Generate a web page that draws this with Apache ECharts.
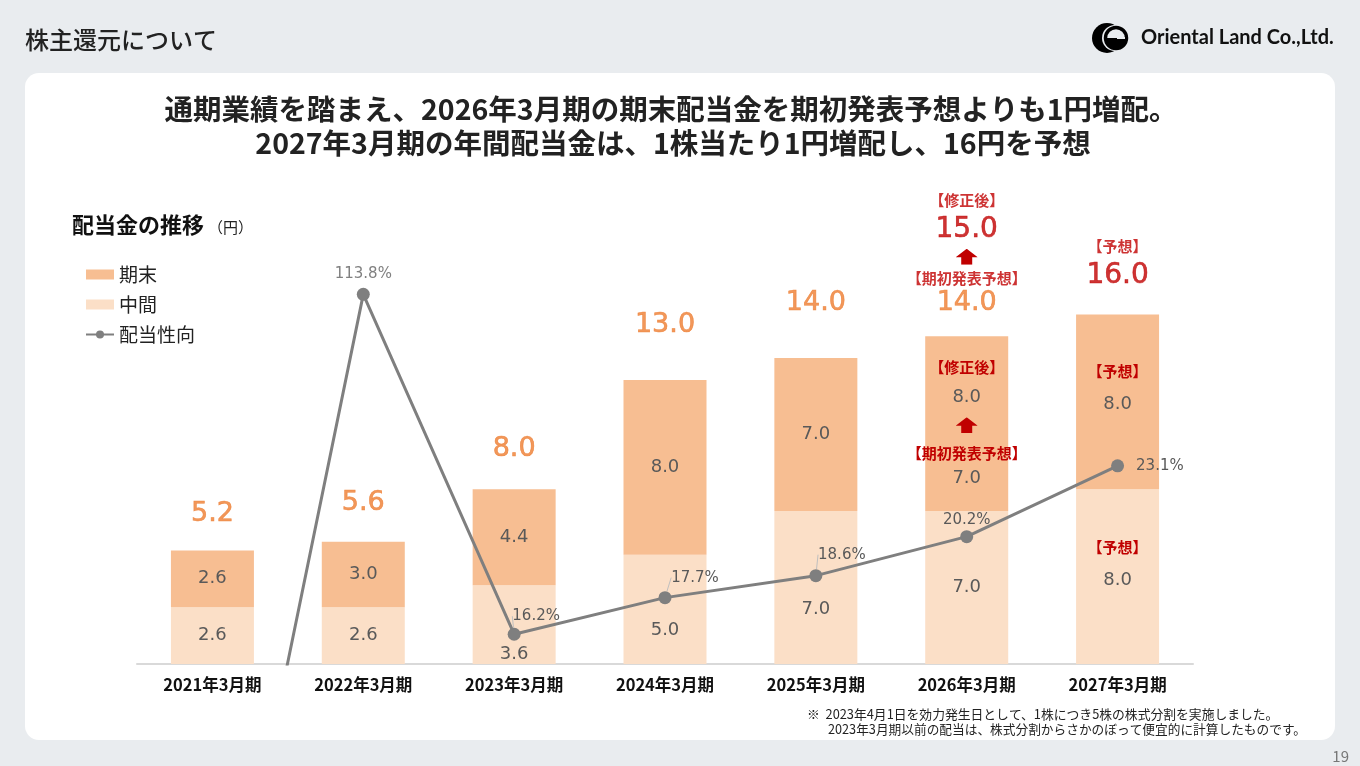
<!DOCTYPE html>
<html><head><meta charset="utf-8">
<script src="https://cdn.jsdelivr.net/npm/echarts@6.0.0/dist/echarts.min.js"></script>
<style>html,body{margin:0;padding:0;background:#E9ECEF;}#c{width:1360px;height:766px;}</style>
</head><body><div id="c"></div>
<script>
// ---- data ----
const categories = ['2021年3月期','2022年3月期','2023年3月期','2024年3月期','2025年3月期','2026年3月期','2027年3月期'];
const interimDividend = [2.6, 2.6, 3.6, 5.0, 7.0, 7.0, 8.0];
const yearEndDividend = [2.6, 3.0, 4.4, 8.0, 7.0, 8.0, 8.0];
const yearEndInitialForecast = [null, null, null, null, null, 7.0, null];
const annualDividend = [5.2, 5.6, 8.0, 13.0, 14.0, 15.0, 16.0];
const annualInitialForecast = [null, null, null, null, null, 14.0, null];
const payoutRatio = [0, 113.8, 16.2, 17.7, 18.6, 20.2, 23.1];
const forecastIndex = 6;   // 2027年3月期 = 予想
const revisedIndex = 5;    // 2026年3月期 = 修正後

// ---- styles ----
const JP = '"Noto Sans CJK JP", sans-serif';
const NUM = '"DejaVu Sans", sans-serif';
const C_END = '#F7BE92', C_MID = '#FBDFC7', C_LINE = '#7F7F7F';
const C_ORANGE = '#ED7D31', C_RED = '#C00000', C_VAL = '#595959';
const arrowImg = 'data:image/svg+xml;utf8,' + encodeURIComponent('<svg xmlns="http://www.w3.org/2000/svg" width="22" height="16" viewBox="0 0 22 16"><polygon points="11,0 22,8.5 16.5,8.5 16.5,16 5.5,16 5.5,8.5 0,8.5" fill="#C00000"/></svg>');

const redSmall = {fontFamily: JP, fontWeight: 'bold', fontSize: 15, color: C_RED};
const rich = {
  // total labels above bars
  t1: Object.assign({lineHeight: 26}, redSmall),
  t4: Object.assign({lineHeight: 22}, redSmall),
  tp: Object.assign({lineHeight: 26}, redSmall),
  rb: {fontFamily: NUM, fontSize: 28, color: C_RED, lineHeight: 32, textBorderColor: C_RED, textBorderWidth: 0.6},
  rbp: {fontFamily: NUM, fontSize: 28, color: C_RED, lineHeight: 34, textBorderColor: C_RED, textBorderWidth: 0.6},
  ta: {backgroundColor: {image: arrowImg}, width: 22, height: 16, lineHeight: 22},
  o: {fontFamily: NUM, fontSize: 27, color: C_ORANGE, lineHeight: 30, textBorderColor: C_ORANGE, textBorderWidth: 0.6},
  o26: {fontFamily: NUM, fontSize: 27, color: C_ORANGE, lineHeight: 26, textBorderColor: C_ORANGE, textBorderWidth: 0.6},
  // labels inside bars
  b1: Object.assign({lineHeight: 28}, redSmall),
  b4: Object.assign({lineHeight: 32}, redSmall),
  bp: Object.assign({lineHeight: 30}, redSmall),
  v32: {fontFamily: NUM, fontSize: 18, color: C_VAL, lineHeight: 32},
  v18: {fontFamily: NUM, fontSize: 18, color: C_VAL, lineHeight: 18},
  vp: {fontFamily: NUM, fontSize: 18, color: C_VAL, lineHeight: 36},
  ba: {backgroundColor: {image: arrowImg}, width: 22, height: 16, lineHeight: 24}
};
const f1 = v => v.toFixed(1);

// label tweaks (style only)
const interimOffset = {2: [0, 30], 3: [0, 21], 4: [0, 22], 6: [0, -11.5]};
const totalDistance = [21, 23, 25, 39, 40, 20, 21];
const payoutShift = {2: [22, 1], 3: [30, -1], 4: [26, -2]};

const interimData = interimDividend.map((v, i) => {
  const lab = {offset: interimOffset[i] || [0, 0]};
  if (i === forecastIndex) lab.formatter = '{bp|【予想】}\n{vp|' + f1(v) + '}';
  return {value: v, label: lab};
});
const yearEndData = yearEndDividend.map((v, i) => {
  const lab = {};
  if (i === revisedIndex) {
    lab.formatter = '{b1|【修正後】}\n{v32|' + f1(v) + '}\n{ba|}\n{b4|【期初発表予想】}\n{v18|' + f1(yearEndInitialForecast[i]) + '}';
    lab.offset = [0, -3.5];
  } else if (i === forecastIndex) {
    lab.formatter = '{bp|【予想】}\n{vp|' + f1(v) + '}';
    lab.offset = [0, -12.5];
  }
  return {value: v, label: lab};
});
const totalData = annualDividend.map((v, i) => {
  let fmt = '{o|' + f1(v) + '}';
  if (i === revisedIndex) fmt = '{t1|【修正後】}\n{rb|' + f1(v) + '}\n{ta|}\n{t4|【期初発表予想】}\n{o26|' + f1(annualInitialForecast[i]) + '}';
  if (i === forecastIndex) fmt = '{tp|【予想】}\n{rbp|' + f1(v) + '}';
  return {value: v, label: {formatter: fmt, distance: totalDistance[i]}};
});
const payoutData = payoutRatio.map((v, i) => {
  const d = {value: v};
  if (i === 0) d.label = {show: false};
  if (i === 1) d.label = {color: '#808080', distance: 6};
  if (i === 5) d.label = {distance: 3};
  if (payoutShift[i]) d.labelLine = {show: true};
  if (i === 6) d.label = {position: 'right', distance: 12};
  return d;
});

const chart = echarts.init(document.getElementById('c'));
chart.setOption({
  backgroundColor: '#E9ECEF',
  animation: false,
  textStyle: {fontFamily: JP},
  legend: {
    orient: 'vertical', left: 80, top: 260, itemWidth: 28, itemHeight: 10, itemGap: 11,
    textStyle: {fontSize: 19, color: '#222', fontFamily: JP},
    data: [{name: '期末', icon: 'rect'}, {name: '中間', icon: 'rect'}, '配当性向'],
    selectedMode: false
  },
  grid: {left: 137, right: 167, top: 227, bottom: 102, containLabel: false},
  xAxis: {
    type: 'category', data: categories,
    axisLine: {lineStyle: {color: '#D9D9D9', width: 2}},
    axisTick: {show: false},
    axisLabel: {fontFamily: JP, fontWeight: 'bold', fontSize: 16.5, color: '#111', margin: 12}
  },
  yAxis: [
    {type: 'value', min: 0, max: 20, show: false},
    {type: 'value', min: 14.98, max: 116.56, show: false,
     breaks: [{start: 28, end: 111.67, gap: 0}],
     breakArea: {show: false}}
  ],
  series: [
    {name: '中間', type: 'bar', stack: 'd', barWidth: 83, itemStyle: {color: C_MID},
     label: {show: true, position: 'inside', fontFamily: NUM, fontSize: 18, color: C_VAL, formatter: p => f1(p.value), rich: rich},
     data: interimData},
    {name: '期末', type: 'bar', stack: 'd', barWidth: 83, itemStyle: {color: C_END},
     label: {show: true, position: 'inside', fontFamily: NUM, fontSize: 18, color: C_VAL, formatter: p => f1(p.value), rich: rich},
     data: yearEndData},
    {name: 'total', type: 'scatter', symbolSize: 1, itemStyle: {color: 'rgba(0,0,0,0)'}, silent: true,
     label: {show: true, position: 'top', rich: rich}, data: totalData, z: 3},
    {name: '配当性向', type: 'line', yAxisIndex: 1, z: 5,
     symbol: 'circle', symbolSize: 13, color: C_LINE,
     lineStyle: {color: C_LINE, width: 3}, itemStyle: {color: C_LINE},
     label: {show: true, position: 'top', distance: 5, fontFamily: NUM, fontSize: 15, color: C_VAL, formatter: p => f1(p.value) + '%'},
     labelLine: {show: false, lineStyle: {color: '#BFBFBF', width: 1}},
     labelLayout: function (p) { const s = payoutShift[p.dataIndex]; return s ? {dx: s[0], dy: s[1]} : {}; },
     data: payoutData}
  ],
  graphic: [
    {type: 'rect', z: -10, shape: {x: 25, y: 73, width: 1310, height: 667, r: 14}, style: {fill: '#fff'}},
    {type: 'text', x: 25, y: 40, style: {text: '株主還元について', font: '500 24px ' + JP, fill: '#222', textVerticalAlign: 'middle'}},
    {type: 'text', x: 671, y: 109, style: {text: '通期業績を踏まえ、2026年3月期の期末配当金を期初発表予想よりも1円増配。', font: 'bold 28.5px ' + JP, fill: '#222', textAlign: 'center', textVerticalAlign: 'middle'}},
    {type: 'text', x: 673, y: 143, style: {text: '2027年3月期の年間配当金は、1株当たり1円増配し、16円を予想', font: 'bold 28.5px ' + JP, fill: '#222', textAlign: 'center', textVerticalAlign: 'middle'}},
    {type: 'text', x: 72, y: 225, style: {text: '配当金の推移', font: 'bold 22px ' + JP, fill: '#111', textVerticalAlign: 'middle'}},
    {type: 'text', x: 208, y: 227, style: {text: '（円）', font: '15px ' + JP, fill: '#222', textVerticalAlign: 'middle'}},
    {type: 'text', x: 807, y: 714, style: {text: '※  2023年4月1日を効力発生日として、1株につき5株の株式分割を実施しました。', font: '12.8px ' + JP, fill: '#222', textVerticalAlign: 'middle'}},
    {type: 'text', x: 828, y: 729, style: {text: '2023年3月期以前の配当は、株式分割からさかのぼって便宜的に計算したものです。', font: '12.7px ' + JP, fill: '#222', textVerticalAlign: 'middle'}},
    {type: 'text', x: 1349, y: 756, style: {text: '19', font: '15px ' + JP, fill: '#777', textAlign: 'right', textVerticalAlign: 'middle'}},
    // logo
    {type: 'circle', shape: {cx: 1107, cy: 38, r: 15}, style: {fill: '#000'}},
    {type: 'circle', shape: {cx: 1115, cy: 38, r: 13}, style: {fill: '#E9ECEF'}},
    {type: 'circle', shape: {cx: 1116, cy: 38, r: 10.5}, style: {fill: '#E9ECEF', stroke: '#000', lineWidth: 3.5}},
    {type: 'sector', shape: {cx: 1116, cy: 38, r0: 0, r: 10, startAngle: Math.PI / 2, endAngle: Math.PI}, style: {fill: '#000'}},
    {type: 'sector', shape: {cx: 1116, cy: 38, r0: 0, r: 10, startAngle: 0, endAngle: Math.PI / 2}, style: {fill: '#000'}},
    {type: 'rect', shape: {x: 1117, y: 37, width: 8, height: 2}, style: {fill: '#E9ECEF'}},
    {type: 'text', x: 1141, y: 38, style: {text: 'Oriental Land Co.,Ltd.', font: 'bold 20px Lato, sans-serif', fill: '#111', textVerticalAlign: 'middle'}}
  ]
});
</script></body></html>
